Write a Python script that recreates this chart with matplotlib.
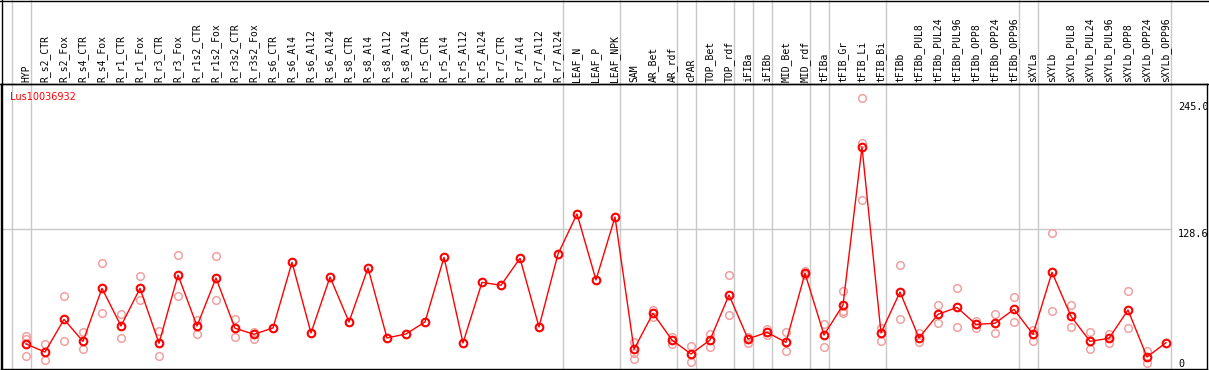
import matplotlib
matplotlib.use("Agg")
import matplotlib.pyplot as plt
from matplotlib.lines import Line2D
import matplotlib.transforms as mtransforms

gene = "Lus10036932"

samples = ["HYP", "R_s2_CTR", "R_s2_Fox", "R_s4_CTR", "R_s4_Fox", "R_r1_CTR", "R_r1_Fox",
           "R_r3_CTR", "R_r3_Fox", "R_r1s2_CTR", "R_r1s2_Fox", "R_r3s2_CTR", "R_r3s2_Fox",
           "R_s6_CTR", "R_s6_Al4", "R_s6_Al12", "R_s6_Al24", "R_s8_CTR", "R_s8_Al4",
           "R_s8_Al12", "R_s8_Al24", "R_r5_CTR", "R_r5_Al4", "R_r5_Al12", "R_r5_Al24",
           "R_r7_CTR", "R_r7_Al4", "R_r7_Al12", "R_r7_Al24", "LEAF_N", "LEAF_P", "LEAF_NPK",
           "SAM", "AR_Bet", "AR_rdf", "cPAR", "TOP_Bet", "TOP_rdf", "iFIBa", "iFIBb",
           "MID_Bet", "MID_rdf", "tFIBa", "tFIB_Gr", "tFIB_Li", "tFIB_Bi", "tFIBb",
           "tFIBb_PUL8", "tFIBb_PUL24", "tFIBb_PUL96", "tFIBb_OPP8", "tFIBb_OPP24",
           "tFIBb_OPP96", "sXYLa", "sXYLb", "sXYLb_PUL8", "sXYLb_PUL24", "sXYLb_PUL96",
           "sXYLb_OPP8", "sXYLb_OPP24", "sXYLb_OPP96"]

# mean expression per sample
means = [23.0, 15.6, 45.6, 25.4, 74.1, 39.5, 74.1, 23.6, 86.3, 39.5, 83.6, 37.4, 31.9,
         37.7, 98.0, 33.1, 84.5, 43.2, 92.8, 28.5, 32.2, 43.2, 102.6, 23.9, 79.6,
         76.9, 101.7, 38.6, 105.6, 142.4, 81.8, 139.6,
         18.1, 51.2, 26.6, 13.8, 26.6, 68.0, 27.6, 33.7,
         24.5, 87.9, 31.2, 58.8, 203.9, 33.1, 70.7,
         28.5, 50.2, 56.6, 41.0, 42.0,
         54.8, 31.9, 88.8, 48.4, 25.4, 28.2,
         54.2, 11.0, 24.2]

# individual replicates (empty = single sample)
reps = [[30.6, 27.3, 12.2], [23.3, 8.6], [66.8, 25.4], [33.7, 18.1], [97.1, 51.2],
        [50.2, 28.2], [85.2, 63.7], [34.9, 11.6], [104.4, 67.4], [45.0, 32.5],
        [103.5, 63.1], [45.6, 29.1], [34.3, 27.9],
        [], [], [], [], [], [], [], [], [], [], [], [], [], [], [], [], [], [], [],
        [24.8, 15.0, 8.9], [54.2, 48.1], [29.7, 22.7], [20.8, 6.1], [32.2, 20.5],
        [86.0, 49.6], [29.7, 24.2], [36.4, 31.2],
        [33.7, 16.2], [90.3, 86.5], [41.0, 20.2], [71.7, 51.1, 53.5], [248.7, 207.9, 155.2],
        [37.9, 25.4], [95.2, 45.9],
        [32.8, 24.5], [58.8, 42.0], [74.1, 38.9], [44.1, 37.4], [50.2, 32.8],
        [65.9, 42.9], [35.8, 25.4], [124.6, 53.3], [58.5, 38.3], [33.7, 18.1], [32.2, 23.6],
        [71.4, 37.4], [16.5, 5.2], []]

# last sample index of each group (vertical separators)
group_ends = [-1, 0, 28, 31, 34, 35, 37, 38, 39, 41, 42, 45, 52, 53, 60]

ytick_vals = [0, 128.6, 245.0]
ytick_labels = ["0", "128.6", "245.0"]

W, H = 1209, 370
fig = plt.figure(figsize=(W / 100, H / 100), dpi=100)
ax = fig.add_axes([1 / W, 1 / H, 1206 / W, 285 / H])

x = list(range(len(samples)))
ax.set_xlim((1 - 26) / 19, (1207 - 26) / 19)
ax.set_ylim(0, 285 / 1.0886)
ax.set_xticks([])
ax.set_yticks([])
for s in ax.spines.values():
    s.set_color("black")
    s.set_linewidth(1)

grey = "#c8c8c8"
top_frac = (285 + 84) / 285
for g in group_ends:
    ax.axvline(g + 0.25, ymin=0, ymax=top_frac, color=grey, lw=1, clip_on=False, zorder=1)
ax.plot([ax.get_xlim()[0], 60.25], [128.6, 128.6], color=grey, lw=1, zorder=1)

# replicates
rx, ry = [], []
for i, r in enumerate(reps):
    for v in r:
        rx.append(i)
        ry.append(v)
ax.plot(rx, ry, ls="none", marker="o", ms=5.5, mfc="none", mec="#f0a0a0", mew=1.1, zorder=2)

# means
ax.plot(x, means, color="red", lw=1, marker="o", ms=5.5, mfc="none", mec="red", mew=1.5, zorder=3)

# sample labels
trans = mtransforms.blended_transform_factory(ax.transData, ax.transAxes)
for i, lab in enumerate(samples):
    ax.text(i, 1.006, lab, rotation=90, ha="center", va="bottom", transform=trans,
            family="DejaVu Sans Mono", fontsize=7, clip_on=False)

# value labels on the right
for v, lab in zip(ytick_vals, ytick_labels):
    ax.text((1178 - 26) / 19, v, lab, ha="left", va="bottom" if v == 0 else "top",
            family="DejaVu Sans Mono", fontsize=7.3)

ax.text((10 - 26) / 19, (369 - 97) / 285, gene, transform=trans, color="red",
        ha="left", va="center", fontsize=7)

# outer frame lines
fig.add_artist(Line2D([0, 1], [1 - 0.5 / H, 1 - 0.5 / H], color="black", lw=1))
fig.add_artist(Line2D([1.5 / W, 1.5 / W], [0, 1], color="black", lw=1))
fig.add_artist(Line2D([0, 1], [286 / H, 286 / H], color="black", lw=1))

fig.savefig("out.png", dpi=100)
